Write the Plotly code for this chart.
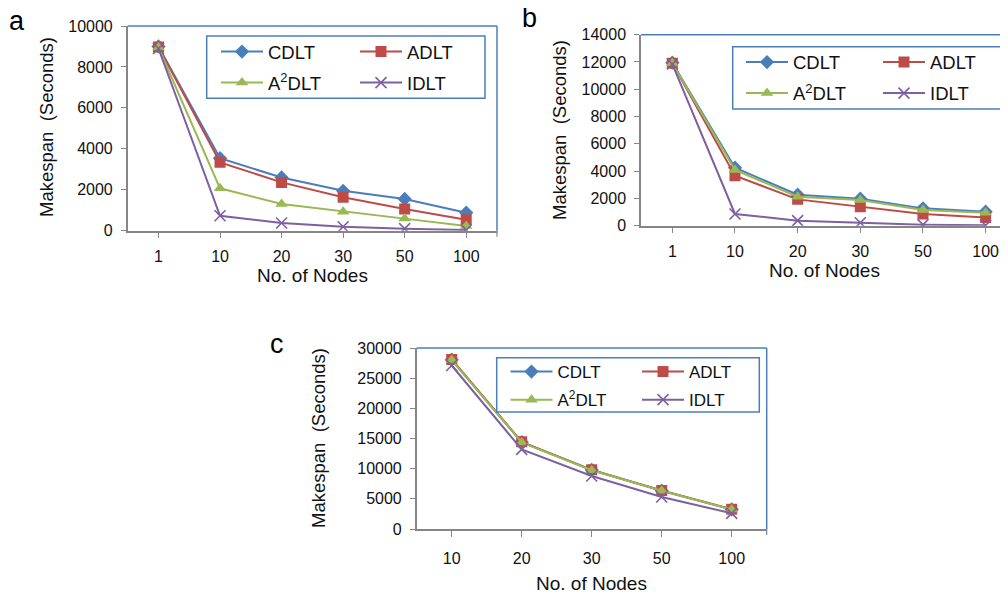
import plotly.graph_objects as go

# page is drawn with an 8px body margin, so the figure covers 8..1008 x 8..594
OFF = 8
W, H = 1008 - OFF, 594 - OFF

# ---------------- data ----------------
nodes_ab = ["1", "10", "20", "30", "50", "100"]
nodes_c = ["10", "20", "30", "50", "100"]

a_cdlt = [9000, 3540, 2600, 1950, 1550, 880]
a_adlt = [8980, 3340, 2360, 1630, 1060, 540]
a_a2dlt = [8950, 2070, 1300, 930, 590, 230]
a_idlt = [8900, 730, 375, 195, 100, 35]

b_cdlt = [11950, 4250, 2270, 1980, 1270, 1030]
b_adlt = [11900, 3670, 1930, 1390, 860, 610]
b_a2dlt = [11900, 4080, 2130, 1880, 1150, 950]
b_idlt = [11850, 860, 370, 220, 75, 25]

c_cdlt = [28050, 14400, 9780, 6350, 3250]
c_adlt = [28100, 14450, 9800, 6380, 3280]
c_a2dlt = [28000, 14350, 9750, 6330, 3220]
c_idlt = [27100, 13200, 8790, 5300, 2600]

series_names = ["CDLT", "ADLT", "A<sup>2</sup>DLT", "IDLT"]
colors = ["#4A7EBB", "#BE4B48", "#98B954", "#7D60A0"]
symbols = ["diamond", "square", "triangle-up", "x-thin-open"]
msizes = [11, 11, 11, 11]

AXIS_GRAY = "#868686"
BORDER_BLUE = "#4A7EBB"
FONT = "Liberation Sans"


def px(x):
    return (x - OFF) / W


def py(y):
    return 1 - (y - OFF) / H


fig = go.Figure()

panels = [
    dict(key="", x=nodes_ab, data=[a_cdlt, a_adlt, a_a2dlt, a_idlt],
         box=(127.7, 26, 497, 230.7), yr=(0, 10000), dt=2000,
         xr=(-0.5, 5.5), legs=("legend", "legend2")),
    dict(key="2", x=nodes_ab, data=[b_cdlt, b_adlt, b_a2dlt, b_idlt],
         box=(641, 34.7, 1008, 225.7), yr=(0, 14000), dt=2000,
         xr=(-0.5, 5.357), legs=("legend3", "legend4")),
    dict(key="3", x=nodes_c, data=[c_cdlt, c_adlt, c_a2dlt, c_idlt],
         box=(416.7, 348, 766.7, 529), yr=(0, 30000), dt=5000,
         xr=(-0.5, 4.5), legs=("legend5", "legend6")),
]

for p in panels:
    k = p["key"]
    for i in range(4):
        leg = p["legs"][0] if i in (0, 2) else p["legs"][1]
        mk = dict(symbol=symbols[i], size=msizes[i], color=colors[i])
        if symbols[i] == "x-thin-open":
            mk["line"] = dict(color=colors[i], width=1.6)
        fig.add_trace(go.Scatter(
            x=p["x"], y=p["data"][i], name=series_names[i],
            mode="lines+markers", line=dict(color=colors[i], width=2),
            marker=mk, xaxis="x" + k, yaxis="y" + k, legend=leg,
            legendgroup="g%s_%d" % (k, i), showlegend=True))

layout = dict(
    width=W, height=H, margin=dict(l=0, r=0, t=0, b=0, autoexpand=False),
    paper_bgcolor="white", plot_bgcolor="white",
    font=dict(family=FONT, color="#111111"),
    showlegend=True,
)

xtick_standoff = {"": 4, "2": 4, "3": 8}
for p in panels:
    k = p["key"]
    x0, y0, x1, y1 = p["box"]
    layout["xaxis" + k] = dict(
        domain=[px(x0), min(1.0, px(x1))], anchor="y" + k, type="category",
        range=list(p["xr"]), showline=True, linecolor=AXIS_GRAY, linewidth=1.5,
        ticks="outside", ticklen=6, tickcolor=AXIS_GRAY, tickwidth=1.2,
        showgrid=False, zeroline=False, automargin=False,
        tickfont=dict(family=FONT, size=16, color="#111111"),
        ticklabelstandoff=xtick_standoff[k],
    )
    layout["yaxis" + k] = dict(
        domain=[py(y1), py(y0)], anchor="x" + k,
        range=list(p["yr"]), dtick=p["dt"], tickformat="d",
        showline=True, linecolor=AXIS_GRAY,
        linewidth=1.5, ticks="outside", ticklen=5, tickcolor=AXIS_GRAY,
        showgrid=False, zeroline=False, automargin=False,
        tickfont=dict(family=FONT, size=16, color="#111111"),
        ticklabelstandoff=5,
    )

# legends (two columns each)
leg_pos = {
    "legend": (216, 33), "legend2": (355, 33),
    "legend3": (741, 43.5), "legend4": (878, 43.5),
    "legend5": (505.5, 354), "legend6": (637, 354),
}
leg_font = {"legend": 18.5, "legend2": 18.5, "legend3": 18.5, "legend4": 18.5,
            "legend5": 17, "legend6": 17}
leg_gap = {"legend": 4, "legend2": 4, "legend3": 4, "legend4": 4,
           "legend5": 3, "legend6": 3}
for name, (lx, ly) in leg_pos.items():
    layout[name] = dict(
        x=px(lx), y=py(ly), xanchor="left", yanchor="top",
        bgcolor="rgba(0,0,0,0)", borderwidth=0, itemwidth=42,
        font=dict(family=FONT, size=leg_font[name], color="#111111"),
        tracegroupgap=leg_gap[name], orientation="v", traceorder="grouped",
    )

shapes = []
for p in panels:
    x0, y0, x1, y1 = p["box"]
    shapes.append(dict(type="line", xref="paper", yref="paper",
                       x0=px(x0), x1=min(1.0, px(x1)), y0=py(y0), y1=py(y0),
                       line=dict(color=BORDER_BLUE, width=1.5)))
    if x1 < 1007:
        shapes.append(dict(type="line", xref="paper", yref="paper",
                           x0=px(x1), x1=px(x1), y0=py(y0), y1=py(y1),
                           line=dict(color=BORDER_BLUE, width=1.5)))
        # end tick at right of category axis
        shapes.append(dict(type="line", xref="paper", yref="paper",
                           x0=px(x1), x1=px(x1), y0=py(y1), y1=py(y1 + 6),
                           line=dict(color=AXIS_GRAY, width=1.2)))

leg_boxes = [(206.7, 36, 485, 98.3), (732.7, 46.7, 1006.7, 109),
             (496.7, 357.7, 759.3, 412)]
for (x0, y0, x1, y1) in leg_boxes:
    shapes.append(dict(type="rect", xref="paper", yref="paper",
                       x0=px(x0), x1=px(x1), y0=py(y1), y1=py(y0),
                       line=dict(color=BORDER_BLUE, width=1.5),
                       fillcolor="rgba(0,0,0,0)"))
layout["shapes"] = shapes

ann = []
# axis titles
ytitles = [(46, 127), (559, 130), (318, 438)]
xtitles = [(312, 275), (824, 270), (591, 583)]
for (x, y) in ytitles:
    ann.append(dict(text="Makespan  (Seconds)", x=px(x), y=py(y), xref="paper",
                    yref="paper", showarrow=False, textangle=-90,
                    font=dict(family=FONT, size=18.5, color="#111111"),
                    xanchor="center", yanchor="middle"))
for (x, y) in xtitles:
    ann.append(dict(text="No. of Nodes", x=px(x), y=py(y), xref="paper",
                    yref="paper", showarrow=False,
                    font=dict(family=FONT, size=19, color="#111111"),
                    xanchor="center", yanchor="middle"))
# panel letters
for (t, x, y) in [("a", 17, 21), ("b", 529, 18), ("c", 277, 344)]:
    ann.append(dict(text=t, x=px(x), y=py(y), xref="paper", yref="paper",
                    showarrow=False, xanchor="center", yanchor="middle",
                    font=dict(family=FONT, size=27, color="#000000")))
layout["annotations"] = ann

fig.update_layout(**layout)
fig.write_html("out.html")
